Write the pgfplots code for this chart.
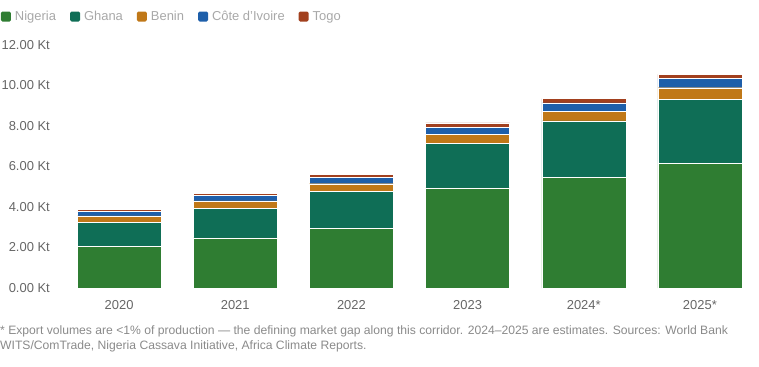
\documentclass[border=0pt]{standalone}
\usepackage{fontspec}
\setmainfont{Liberation Sans}
\usepackage{pgfplots}
\pgfplotsset{compat=1.18}
\usepackage{pgfplotstable}

\definecolor{cNigeria}{HTML}{2F7D32}
\definecolor{cGhana}{HTML}{0F6E56}
\definecolor{cBenin}{HTML}{C07818}
\definecolor{cIvoire}{HTML}{1E5FAA}
\definecolor{cTogo}{HTML}{A2401E}
\definecolor{tickgray}{HTML}{666666}
\definecolor{leggray}{HTML}{A8A8A8}
\definecolor{notegray}{HTML}{8A8A8A}

% Cassava exports by country (Kt)
\pgfplotstableread{
x Nigeria Ghana Benin Ivoire Togo
0 2.07 1.17 0.32 0.22 0.11
1 2.47 1.48 0.35 0.26 0.12
2 2.96 1.80 0.39 0.32 0.13
3 4.95 2.20 0.45 0.35 0.20
4 5.47 2.78 0.49 0.40 0.21
5 6.16 3.17 0.56 0.47 0.19
}\exports

\begin{document}
\begin{tikzpicture}
\path[use as bounding box] (0bp,0bp) rectangle (759bp,-367bp);
\begin{axis}[
  at={(61bp,-288bp)}, anchor=south west,
  scale only axis,
  width=697bp, height=243bp,
  xmin=-0.5, xmax=5.5, ymin=0, ymax=12,
  ybar stacked, bar width=84bp,
  axis line style={draw=none},
  clip=false,
  xtick={0,...,5},
  xticklabels={2020,2021,2022,2023,2024*,2025*},
  ytick={0,2,...,12},
  yticklabel={\pgfmathprintnumber[fixed,fixed zerofill,precision=2]{\tick} Kt},
  /pgf/number format/assume math mode=true,
  tick label style={font=\fontsize{13}{15}\selectfont, text=tickgray},
  yticklabel style={inner sep=0pt, anchor=east, xshift=-11bp},
  xticklabel style={inner sep=0pt, anchor=north, yshift=-12.5bp},
  major tick length=0pt, tick style={draw=none},
  legend columns=-1,
  legend style={draw=none, fill=none, inner sep=0pt, outer sep=0pt,
    at={(rel axis cs:0,1)}, anchor=west, xshift=-60bp, yshift=28.5bp,
    font=\fontsize{13}{15}\selectfont, text=leggray,
    /tikz/every odd column/.append style={column sep=4bp},
    /tikz/every even column/.append style={column sep=14bp},
    nodes={inner sep=0pt}},
  legend image code/.code={\fill[#1,draw=none,rounded corners=1.5bp] (0bp,-5bp) rectangle (10bp,5bp);},
  every axis plot/.append style={draw=white, line width=0.35bp},
]
\addplot[fill=cNigeria] table[x=x,y=Nigeria] {\exports};
\addplot[fill=cGhana] table[x=x,y=Ghana] {\exports};
\addplot[fill=cBenin] table[x=x,y=Benin] {\exports};
\addplot[fill=cIvoire] table[x=x,y=Ivoire] {\exports};
\addplot[fill=cTogo] table[x=x,y=Togo] {\exports};
\legend{Nigeria,Ghana,Benin,C\^ote d'Ivoire,Togo}
\end{axis}
\node[anchor=north west, inner sep=0pt, align=left, text=notegray,
  font=\fontsize{12.2}{16}\selectfont] at (0bp,-325bp)
  {* Export volumes are <1\% of production --- the defining market gap along this corridor. 2024--2025 are estimates. Sources: World Bank\\
   WITS/ComTrade, Nigeria Cassava Initiative, Africa Climate Reports.};
\end{tikzpicture}
\end{document}
